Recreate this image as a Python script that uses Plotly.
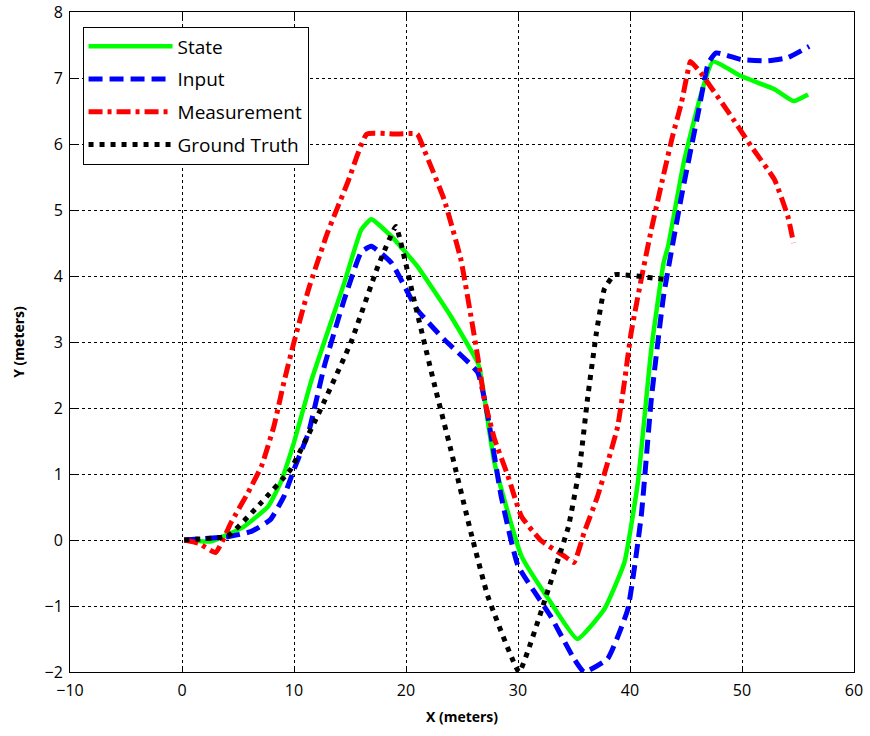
import plotly.graph_objects as go

state_x = [0.2, 2.6, 5.5, 7.7, 8.8, 10, 11.5, 12.7, 14.5, 16, 16.9, 18.7, 21, 24, 26.4, 26.7, 27.9, 30.3, 32.9, 35.3, 37.7, 39.5, 40.7, 41.9, 43, 43.4, 44.8, 46.3, 47.4, 49.9, 52.9, 54.6, 55.9]
state_y = [0, -0.02, 0.2, 0.51, 0.87, 1.48, 2.39, 3.0, 3.9, 4.7, 4.86, 4.6, 4.15, 3.39, 2.69, 2.48, 1.17, -0.24, -0.94, -1.5, -1.05, -0.34, 0.87, 2.89, 4.2, 4.45, 5.72, 6.73, 7.25, 7.03, 6.83, 6.65, 6.75]

input_x = [0.2, 4.1, 6.2, 7.9, 9.1, 10, 11.3, 12.7, 14.5, 16, 16.9, 18.7, 21, 23.4, 26.4, 27.3, 28.5, 30, 32.9, 35, 35.9, 38, 39.8, 41, 41.9, 43, 44.6, 46.1, 47, 47.7, 49.9, 52.3, 54.1, 56]
input_y = [0, 0.05, 0.13, 0.31, 0.66, 1.07, 1.63, 2.63, 3.65, 4.36, 4.45, 4.2, 3.49, 3.04, 2.54, 1.88, 0.66, -0.39, -1.15, -1.8, -2.0, -1.8, -1.05, 0.36, 2.13, 3.7, 5.21, 6.48, 7.23, 7.38, 7.28, 7.26, 7.31, 7.48]

meas_x = [0.2, 1.5, 3.0, 4.4, 5.9, 7.1, 8.2, 9.1, 10, 11.3, 13, 14.8, 16.5, 19, 21, 21.6, 23.4, 24.9, 25.8, 26.4, 27, 27.9, 29.1, 30.3, 32, 34.1, 35, 35.9, 37.1, 38, 38.9, 39.5, 40.1, 41, 41.9, 42.9, 43.8, 44.6, 45.2, 45.4, 46.3, 48.8, 50.8, 52.9, 54.1, 54.6]
meas_y = [0, -0.05, -0.19, 0.27, 0.72, 1.12, 1.72, 2.39, 3.0, 3.8, 4.66, 5.42, 6.15, 6.15, 6.15, 5.92, 5.16, 4.25, 3.39, 2.78, 2.13, 1.53, 0.97, 0.36, 0, -0.24, -0.34, 0.11, 0.66, 1.17, 1.72, 2.39, 3.14, 3.95, 4.7, 5.46, 6.12, 6.63, 7.13, 7.25, 7.08, 6.48, 5.97, 5.46, 4.9, 4.5]

truth_x = [0.2, 4.1, 7.1, 9.7, 12.1, 15.1, 17.5, 19.1, 20.7, 22.5, 24, 25.8, 27.3, 30.1, 32.7, 34.5, 35.5, 36.2, 37, 37.7, 38.6, 43.0]
truth_y = [0, 0.06, 0.57, 1.07, 1.88, 3.0, 4.15, 4.75, 3.65, 2.38, 1.37, 0.11, -0.85, -2.0, -0.75, 0.2, 1.1, 2.13, 3.14, 3.8, 4.02, 3.95]

x_ticks = [-10, 0, 10, 20, 30, 40, 50, 60]
y_ticks = [-2, -1, 0, 1, 2, 3, 4, 5, 6, 7, 8]

fig = go.Figure()
fig.add_trace(go.Scatter(x=state_x, y=state_y, mode="lines", name="State", legendgroup="a",
                         line=dict(color="#00FF00", width=4.5, shape="spline", smoothing=0.4)))
fig.add_trace(go.Scatter(x=input_x, y=input_y, mode="lines", name="Input", legendgroup="b",
                         line=dict(color="#0000FF", width=5, dash="14px,7px", shape="spline", smoothing=0.4)))
fig.add_trace(go.Scatter(x=meas_x, y=meas_y, mode="lines", name="Measurement", legendgroup="c",
                         line=dict(color="#FF0000", width=5, dash="14px,5px,4px,5px", shape="spline", smoothing=0.4)))
fig.add_trace(go.Scatter(x=truth_x, y=truth_y, mode="lines", name="Ground Truth", legendgroup="d",
                         line=dict(color="#000000", width=5, dash="5px,6px", shape="spline", smoothing=0.3)))

axis_common = dict(
    showgrid=True, gridcolor="black", gridwidth=1, griddash="dot",
    zeroline=False, showline=True, linecolor="black", linewidth=1, mirror="ticks",
    ticks="inside", ticklen=6, tickcolor="black", automargin=False,
    tickfont=dict(family="Open Sans, Liberation Sans, sans-serif", size=16, color="black"),
)

fig.update_xaxes(range=[-10, 60], tickvals=x_ticks, ticklabelstandoff=4,
                 title=dict(text="<b>X (meters)</b>", font=dict(family="Open Sans, sans-serif", size=14, color="black"), standoff=11),
                 **axis_common)
fig.update_yaxes(range=[-2, 8], tickvals=y_ticks, ticklabelstandoff=3,
                 title=dict(text="<b>Y (meters)</b>", font=dict(family="Open Sans, sans-serif", size=14, color="black"), standoff=16),
                 **axis_common)

fig.update_layout(
    width=870, height=736,
    margin=dict(l=70, r=16, t=12, b=64),
    plot_bgcolor="white", paper_bgcolor="white",
    showlegend=True,
    legend=dict(x=0.016, y=0.978, xanchor="left", yanchor="top",
                bgcolor="white", bordercolor="black", borderwidth=1,
                font=dict(family="Open Sans, sans-serif", size=19, color="black"),
                itemwidth=84, tracegroupgap=5),
)

fig.write_html("out.html")
